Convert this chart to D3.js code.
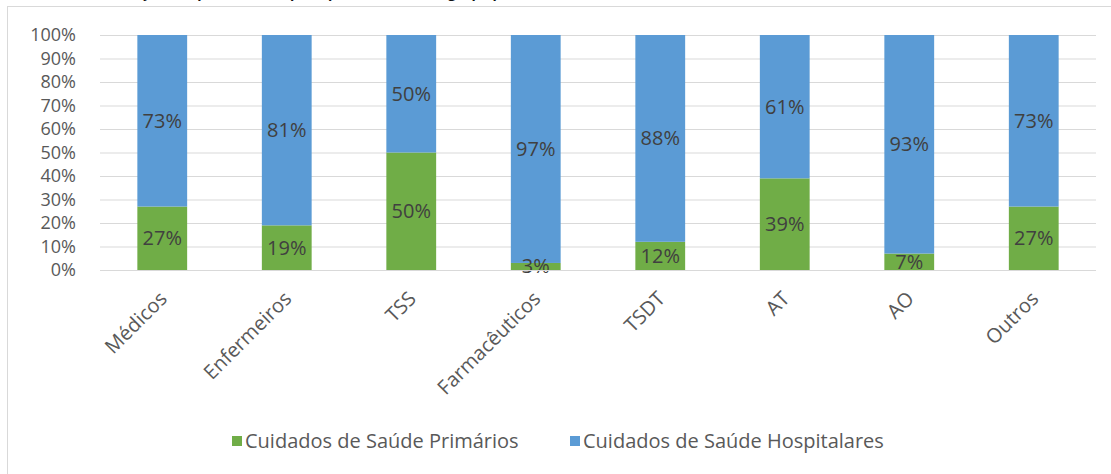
<!DOCTYPE html>
<html><head><meta charset="utf-8">
<script src="https://cdn.jsdelivr.net/npm/d3@7"></script>
<style>
html,body{margin:0;padding:0;background:#fff;overflow:hidden}
svg{display:block;font-family:"Open Sans",sans-serif}
</style></head>
<body>
<svg id="c" width="1111" height="474"></svg>
<script>
const categories = ["Médicos","Enfermeiros","TSS","Farmacêuticos","TSDT","AT","AO","Outros"];
const primarios = [27,19,50,3,12,39,7,27];
const hospitalares = [73,81,50,97,88,61,93,73];
const seriesNames = ["Cuidados de Saúde Primários","Cuidados de Saúde Hospitalares"];
const seriesColors = ["#70AD47","#5B9BD5"];
const yTicks = [0,10,20,30,40,50,60,70,80,90,100];
const titleText = "Gráfico 4 – Distribuição dos profissionais por tipo de cuidados e grupo profissional, a 31 de dezembro";

const svg = d3.select("#c");
// cut-off title (only its lowest pixels are visible, as in the reference)
svg.append("text").attr("x",4).attr("y",-2).attr("font-size",14).attr("font-weight","bold")
  .attr("fill","#111").text(titleText);
// chart border
svg.append("rect").attr("x",7.5).attr("y",6.5).attr("width",1120).attr("height",480)
  .attr("fill","#fff").attr("stroke","#d9d9d9");

const m = {l:100,r:1096,t:35,b:270};
const x = d3.scaleBand().domain(categories).range([m.l,m.r]).paddingInner(0.6).paddingOuter(0.3);
const y = d3.scaleLinear().domain([0,100]).range([m.b,m.t]);

// gridlines
svg.append("g").selectAll("line").data(yTicks.slice(1)).join("line")
  .attr("x1",m.l).attr("x2",m.r).attr("y1",d=>y(d)+0.5).attr("y2",d=>y(d)+0.5)
  .attr("stroke","#d9d9d9").attr("stroke-width",1);

const yAxis = svg.append("g").attr("transform",`translate(${m.l},0)`)
  .call(d3.axisLeft(y).tickValues(yTicks).tickFormat(d=>d+"%").tickSize(0).tickPadding(24));
yAxis.select(".domain").remove();
yAxis.selectAll("text").attr("font-size",18).attr("fill","#595959").attr("font-family","Open Sans, sans-serif");

const stackData = categories.map((c,i)=>({cat:c, p:primarios[i], h:hospitalares[i]}));
const stack = d3.stack().keys(["p","h"])(stackData);

const g = svg.append("g");
stack.forEach((s,si)=>{
  g.append("g").selectAll("rect").data(s).join("rect")
    .attr("x",d=>x(d.data.cat)).attr("width",x.bandwidth())
    .attr("y",d=>y(d[1])).attr("height",d=>y(d[0])-y(d[1]))
    .attr("fill",seriesColors[si]);
});
// x axis line
svg.append("line").attr("x1",m.l).attr("x2",m.r).attr("y1",m.b+0.5).attr("y2",m.b+0.5).attr("stroke","#d9d9d9");

// data labels
stack.forEach((s,si)=>{
  g.append("g").selectAll("text").data(s).join("text")
    .attr("x",d=>x(d.data.cat)+x.bandwidth()/2)
    .attr("y",d=>(y(d[0])+y(d[1]))/2)
    .attr("dy","0.35em").attr("text-anchor","middle")
    .attr("font-size",20).attr("fill","#404040")
    .text(d=>(d[1]-d[0])+"%");
});

// category labels
const xAxis = svg.append("g").attr("transform",`translate(0,${m.b})`)
  .call(d3.axisBottom(x).tickSize(0).tickPadding(0));
xAxis.select(".domain").remove();
xAxis.selectAll("text")
  .attr("font-size",20).attr("fill","#595959").attr("font-family","Open Sans, sans-serif")
  .attr("text-anchor","end").attr("dy",0).attr("y",0)
  .attr("transform","translate(6,30) rotate(-45)");

// legend
const leg = svg.append("g");
const legX = [232,570];
seriesNames.forEach((n,i)=>{
  leg.append("rect").attr("x",legX[i]).attr("y",436).attr("width",10).attr("height",10).attr("fill",seriesColors[i]);
  leg.append("text").attr("x",legX[i]+13).attr("y",441).attr("dy","0.35em")
    .attr("font-size",20).attr("fill","#595959").text(n);
});
</script>
</body></html>
